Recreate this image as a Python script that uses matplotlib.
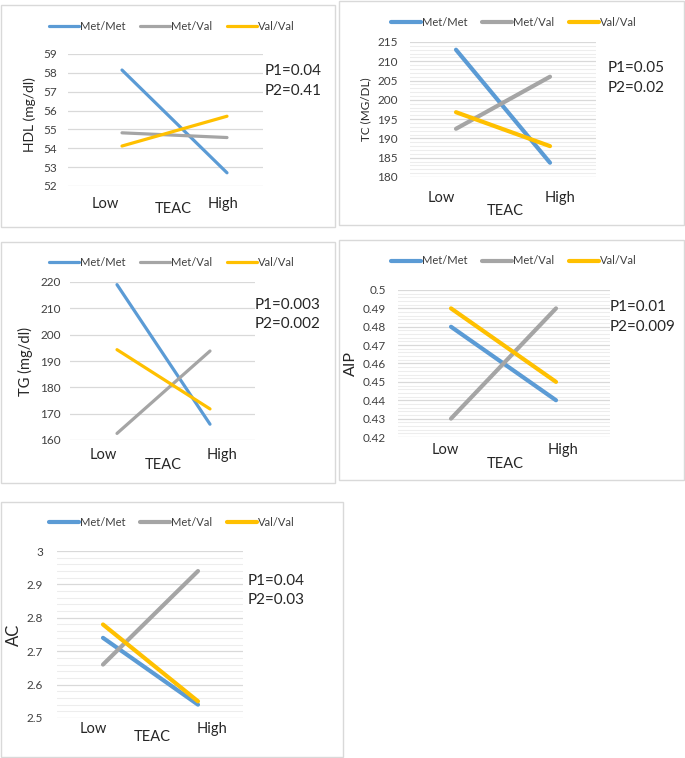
import matplotlib
matplotlib.use("Agg")
import matplotlib.pyplot as plt
from matplotlib.patches import Rectangle
from matplotlib.ticker import MultipleLocator
import numpy as np

plt.rcParams['font.family'] = ['Lato', 'DejaVu Sans']

# ---------------- data ----------------
categories = ["Low", "High"]
series_names = ["Met/Met", "Met/Val", "Val/Val"]
colors = ["#5B9BD5", "#A5A5A5", "#FFC000"]
x_label = "TEAC"

hdl_met_met = [58.15, 52.7]
hdl_met_val = [54.82, 54.57]
hdl_val_val = [54.12, 55.7]

tc_met_met = [213.0, 183.7]
tc_met_val = [192.5, 206.0]
tc_val_val = [196.8, 188.0]

tg_met_met = [219.0, 166.0]
tg_met_val = [162.5, 193.8]
tg_val_val = [194.3, 171.8]

aip_met_met = [0.48, 0.44]
aip_met_val = [0.43, 0.49]
aip_val_val = [0.49, 0.45]

ac_met_met = [2.74, 2.54]
ac_met_val = [2.66, 2.94]
ac_val_val = [2.78, 2.55]

hdl_p = ["P1=0.04", "P2=0.41"]
tc_p = ["P1=0.05", "P2=0.02"]
tg_p = ["P1=0.003", "P2=0.002"]
aip_p = ["P1=0.01", "P2=0.009"]
ac_p = ["P1=0.04", "P2=0.03"]

W, H = 685, 758
fig = plt.figure(figsize=(W / 100, H / 100), dpi=100)


def fx(x):
    return x / W


def fy(y):
    return 1 - y / H


def panel(frame, plot, pts, ylim, major, minor, series, ylabel, ylabel_pos,
          ylabel_size, pvals, pval_pos, tick_pos, teac_pos, legend_pos, lw,
          tick_pad, ylabels_fmt):
    # frame
    fx0, fy0, fx1, fy1 = frame
    fig.patches.append(Rectangle((fx(fx0), fy(fy1)), fx(fx1 - fx0), (fy1 - fy0) / H,
                                 transform=fig.transFigure, fill=False,
                                 edgecolor="#d9d9d9", linewidth=1.0))
    px0, py0, px1, py1 = plot
    ax = fig.add_axes([fx(px0), fy(py1), fx(px1 - px0), (py1 - py0) / H])
    lo, hi = pts
    scale = hi - lo
    ax.set_xlim(-(lo - px0) / scale, 1 + (px1 - hi) / scale)
    ax.set_ylim(*ylim)
    ax.yaxis.set_major_locator(MultipleLocator(major))
    if minor:
        ax.yaxis.set_minor_locator(MultipleLocator(minor))
        ax.grid(True, which="minor", axis="y", color="#ededed", linewidth=0.8)
    ax.grid(True, which="major", axis="y", color="#d9d9d9", linewidth=0.9)
    ax.set_axisbelow(True)
    for s in ax.spines.values():
        s.set_visible(False)
    ax.set_xticks([])
    ax.tick_params(axis="y", which="both", length=0, pad=tick_pad, labelsize=8.5,
                   labelcolor="#404040")
    ax.yaxis.set_major_formatter(plt.FuncFormatter(ylabels_fmt))
    xs = np.arange(len(categories))
    handles = []
    for name, col, vals in zip(series_names, colors, series):
        h, = ax.plot(xs, vals, color=col, linewidth=lw, solid_capstyle="round",
                     label=name, clip_on=False)
        handles.append(h)
    leg = ax.legend(handles=handles, loc="center", ncol=3,
                    bbox_to_anchor=(fx(legend_pos[0]), fy(legend_pos[1])),
                    bbox_transform=fig.transFigure, frameon=False, fontsize=8,
                    handlelength=2.7, handletextpad=0.1, columnspacing=1.3,
                    borderpad=0, borderaxespad=0)
    for t in leg.get_texts():
        t.set_color("#404040")
    # category labels
    for cat, (tx, ty) in zip(categories, tick_pos):
        fig.text(fx(tx), fy(ty), cat, ha="center", va="center", fontsize=10.5,
                 color="#262626")
    fig.text(fx(teac_pos[0]), fy(teac_pos[1]), x_label, ha="center", va="center",
             fontsize=10.5, color="#262626")
    fig.text(fx(ylabel_pos[0]), fy(ylabel_pos[1]), ylabel, ha="center", va="center",
             rotation=90, fontsize=ylabel_size, color="#262626")
    for txt, yy in zip(pvals, pval_pos[1]):
        fig.text(fx(pval_pos[0]), fy(yy), txt, ha="left", va="center",
                 fontsize=11, color="#262626")
    return ax


def fmt_int(v, p):
    return f"{v:.0f}"


def fmt_aip(v, p):
    s = f"{v:.2f}"
    return "0.5" if abs(v - 0.5) < 1e-9 else s


def fmt_ac(v, p):
    return f"{v:g}"


# HDL
panel(frame=(1, 5, 335, 227), plot=(68, 54, 263, 186), pts=(122, 227),
      ylim=(52, 59), major=1, minor=None,
      series=[hdl_met_met, hdl_met_val, hdl_val_val],
      ylabel="HDL (mg/dl)", ylabel_pos=(30, 115), ylabel_size=10,
      pvals=hdl_p, pval_pos=(265, (71, 91)),
      tick_pos=[(105, 204), (223, 204)], teac_pos=(173, 209),
      legend_pos=(172, 26), lw=2.3, tick_pad=8, ylabels_fmt=fmt_int)

# TC
panel(frame=(339, 1, 684, 225), plot=(410, 42, 596, 177), pts=(456, 550),
      ylim=(180, 215), major=5, minor=1,
      series=[tc_met_met, tc_met_val, tc_val_val],
      ylabel="TC (MG/DL)", ylabel_pos=(366, 109), ylabel_size=8.5,
      pvals=tc_p, pval_pos=(608, (68, 88)),
      tick_pos=[(441, 198), (560, 198)], teac_pos=(505, 211),
      legend_pos=(514, 22), lw=3.0, tick_pad=9, ylabels_fmt=fmt_int)

# TG
panel(frame=(1, 242, 335, 483), plot=(70, 282, 255, 440), pts=(117, 210),
      ylim=(160, 220), major=10, minor=None,
      series=[tg_met_met, tg_met_val, tg_val_val],
      ylabel="TG (mg/dl)", ylabel_pos=(25, 361), ylabel_size=10.5,
      pvals=tg_p, pval_pos=(255, (305, 324)),
      tick_pos=[(103, 455), (222, 455)], teac_pos=(163, 465),
      legend_pos=(172, 262), lw=2.3, tick_pad=6.5, ylabels_fmt=fmt_int)

# AIP
panel(frame=(339, 240, 684, 480), plot=(398, 290, 610, 437), pts=(451, 556),
      ylim=(0.42, 0.5), major=0.01, minor=0.002,
      series=[aip_met_met, aip_met_val, aip_val_val],
      ylabel="AIP", ylabel_pos=(351, 364), ylabel_size=11.5,
      pvals=aip_p, pval_pos=(610, (307, 327)),
      tick_pos=[(445, 450), (563, 450)], teac_pos=(505, 464),
      legend_pos=(514, 261), lw=3.0, tick_pad=8.5, ylabels_fmt=fmt_aip)

# AC
panel(frame=(1, 502, 343, 757), plot=(57, 551, 243, 718), pts=(103, 198),
      ylim=(2.5, 3.0), major=0.1, minor=0.02,
      series=[ac_met_met, ac_met_val, ac_val_val],
      ylabel="AC", ylabel_pos=(14, 635), ylabel_size=12,
      pvals=ac_p, pval_pos=(248, (581, 600)),
      tick_pos=[(93, 729), (212, 729)], teac_pos=(152, 737),
      legend_pos=(172, 522), lw=3.0, tick_pad=10, ylabels_fmt=fmt_ac)

fig.savefig("out.png", dpi=100)
